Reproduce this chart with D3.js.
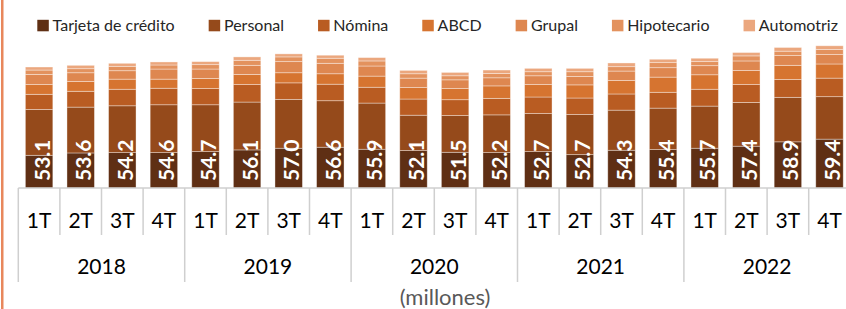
<!DOCTYPE html>
<html>
<head>
<meta charset="utf-8">
<script src="https://cdn.jsdelivr.net/npm/d3@7"></script>
<style>
  body { margin: 0; background: #fff; }
  svg { display: block; font-family: Lato, "Open Sans", sans-serif; }
</style>
</head>
<body>
<script>
// Data (millones)
var years = ["2018", "2019", "2020", "2021", "2022"];
var quarters = ["1T", "2T", "3T", "4T"];
var totals = [53.1, 53.6, 54.2, 54.6, 54.7, 56.1, 57.0, 56.6, 55.9, 52.1,
              51.5, 52.2, 52.7, 52.7, 54.3, 55.4, 55.7, 57.4, 58.9, 59.4];
var tarjeta = [26.9, 27.6, 27.7, 27.7, 28.0, 28.5, 29.0, 29.3, 28.7, 28.3,
               27.8, 27.7, 28.0, 27.1, 28.4, 28.6, 29.0, 29.6, 30.9, 31.7];
var personal = [13.6, 13.6, 13.9, 14.2, 13.9, 14.2, 14.5, 13.8, 13.7, 10.5,
                10.9, 11.2, 11.3, 11.9, 11.9, 12.3, 12.5, 13.0, 13.2, 12.6];
var nomina = [4.5, 4.7, 4.9, 4.9, 4.8, 5.2, 4.9, 4.9, 4.7, 4.8,
              4.7, 4.9, 4.9, 4.9, 4.8, 4.7, 5.0, 5.3, 5.3, 5.5];
var abcd = [2.9, 2.9, 3.0, 2.7, 3.0, 3.0, 3.0, 3.1, 3.3, 3.4,
            3.3, 3.7, 3.7, 3.9, 4.0, 4.5, 4.3, 4.2, 4.2, 4.2];
var grupal = [3.0, 2.6, 2.5, 3.0, 2.8, 2.7, 3.3, 3.1, 3.0, 2.8,
              2.6, 2.4, 2.6, 2.5, 2.8, 2.8, 2.7, 2.8, 2.9, 2.8];
var hipotecario = [1.3, 1.2, 1.3, 1.2, 1.3, 1.5, 1.4, 1.5, 1.5, 1.3,
                   1.2, 1.3, 1.2, 1.4, 1.3, 1.5, 1.2, 1.5, 1.3, 1.5];
var automotriz = [0.9, 1.0, 0.9, 0.9, 0.9, 1.0, 0.9, 0.9, 1.0, 1.0,
                  1.0, 1.0, 1.0, 1.0, 1.1, 1.0, 1.0, 1.0, 1.1, 1.1];

var seriesNames = ["Tarjeta de crédito", "Personal", "Nómina", "ABCD", "Grupal", "Hipotecario", "Automotriz"];
var seriesKeys = ["tarjeta", "personal", "nomina", "abcd", "grupal", "hipotecario", "automotriz"];
var colors = ["#5f2f14", "#954a1b", "#b95c22", "#d67430", "#de8750", "#e3925e", "#eba77e"];

var width = 846, height = 309;
var base = 188;   // category axis line
var yMin = 17.2;  // value axis minimum (axis hidden)

// build table for d3.stack
var cats = [];
years.forEach(function(y) { quarters.forEach(function(q) { cats.push(y + "-" + q); }); });
var table = cats.map(function(c, i) {
    return {cat: c, tarjeta: tarjeta[i], personal: personal[i], nomina: nomina[i], abcd: abcd[i],
            grupal: grupal[i], hipotecario: hipotecario[i], automotriz: automotriz[i], total: totals[i]};
});

var svg = d3.select("body").append("svg")
    .attr("width", width).attr("height", height);

// left frame line
svg.append("rect").attr("x", 1).attr("y", 0).attr("width", 2.5).attr("height", height)
    .attr("fill", "#e8875c");

var xScale = d3.scaleBand().domain(cats).range([18.3, 850.3])
    .paddingInner(0.34).paddingOuter(0.17);
var yScale = d3.scaleLinear().domain([yMin, 60]).range([base, base - 3.37 * (60 - yMin)]).clamp(true);

var stacked = d3.stack().keys(seriesKeys)(table);

// stacked bars
var bars = svg.append("g");
stacked.forEach(function(s, k) {
    bars.append("g").attr("fill", colors[k])
        .selectAll("rect").data(s).enter().append("rect")
        .attr("x", function(d) { return xScale(d.data.cat); })
        .attr("width", xScale.bandwidth())
        .attr("y", function(d) { return yScale(d[1]); })
        .attr("height", function(d) { return yScale(d[0]) - yScale(d[1]); })
        .attr("stroke", "rgba(255,255,255,0.45)")
        .attr("stroke-width", 0.8);
});

// total labels, rotated at the bottom of each bar
svg.append("g").selectAll("text").data(table).enter().append("text")
    .attr("transform", function(d) {
        return "translate(" + (xScale(d.cat) + xScale.bandwidth() / 2 + 10.4) + "," + 181 + ")rotate(-90)";
    })
    .attr("fill", "#fff")
    .style("font-size", "21px").style("font-weight", "bold")
    .text(function(d) { return d.total.toFixed(1); });

// quarter labels
var axisG = svg.append("g").attr("transform", "translate(0," + base + ")");
axisG.call(d3.axisBottom(xScale).tickSize(0)
    .tickFormat(function(d) { return d.split("-")[1]; }));
axisG.select(".domain").remove();
axisG.selectAll("text").attr("fill", "#000").style("font-size", "21px")
    .style("font-family", "Lato, sans-serif").attr("dy", null).attr("y", 39.5);

// axis line and separators
var step = xScale.step(), x0 = 18.3;
var grid = svg.append("g").attr("stroke", "#cfcfcf").attr("stroke-width", 1.5);
grid.append("line").attr("x1", x0).attr("x2", width).attr("y1", base).attr("y2", base);
d3.range(cats.length + 1).forEach(function(i) {
    grid.append("line").attr("x1", x0 + i * step).attr("x2", x0 + i * step)
        .attr("y1", base).attr("y2", i % 4 === 0 ? 282 : 235);
});

// year labels
svg.append("g").selectAll("text").data(years).enter().append("text")
    .attr("x", function(d, i) { return x0 + (i * 4 + 2) * step; })
    .attr("y", 274).attr("text-anchor", "middle")
    .style("font-size", "21px").attr("fill", "#000")
    .text(function(d) { return d; });

svg.append("text").attr("x", 445).attr("y", 305).attr("text-anchor", "middle")
    .style("font-size", "22px").attr("fill", "#595959").text("(millones)");

// legend
var legend = svg.append("g");
var lx = 37.3;
seriesNames.forEach(function(n, k) {
    var g = legend.append("g").attr("transform", "translate(" + lx + ",0)");
    g.append("rect").attr("x", 0).attr("y", 19.8).attr("width", 11.5).attr("height", 11.5).attr("fill", colors[k]);
    var t = g.append("text").attr("x", 15.3).attr("y", 31).style("font-size", "16px")
        .attr("fill", "#262626").text(n);
    lx += 15.3 + t.node().getComputedTextLength() + 34;
});
</script>
</body>
</html>
